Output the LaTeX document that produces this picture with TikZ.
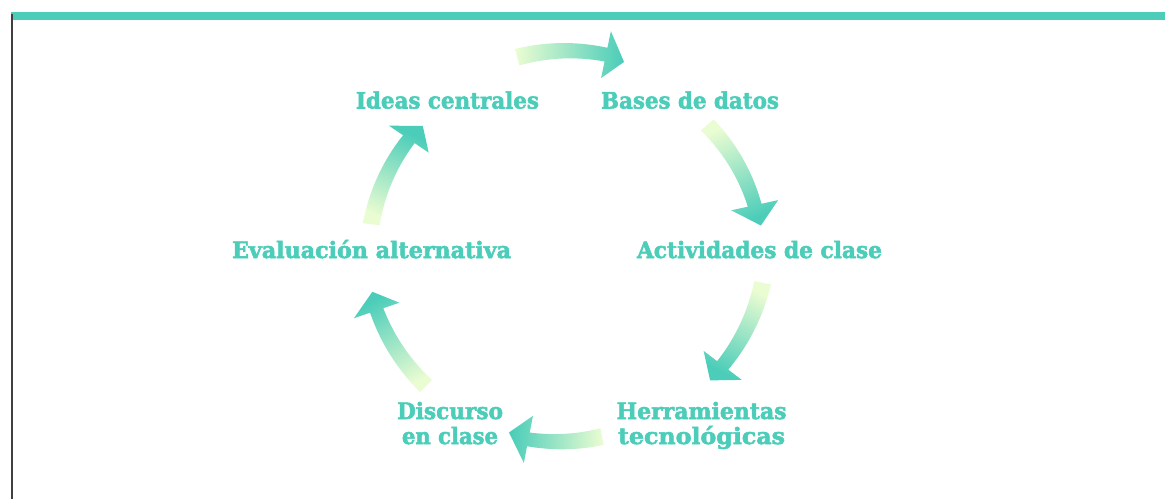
\documentclass[tikz,border=0pt]{standalone}
\usepackage{fontspec}
\setmainfont{DejaVu Serif}[BoldFeatures={FakeBold=2.4}]
\usepackage{graphicx}
\definecolor{tealc}{HTML}{4BCDB9}
\definecolor{lightc}{HTML}{EAFCD2}
\definecolor{framec}{HTML}{404040}
\newsavebox\lblbox
\newcommand\fitw[2]{\sbox\lblbox{#2}\pgfmathsetmacro\fx{#1/\the\wd\lblbox}\scalebox{\fx}[1]{\usebox\lblbox}}
% #1 tail angle, #2 head-base angle, #3 tip angle, #4 r tail, #5 r base, #6 r tip
% radius r(t) and half-width w(t) vary linearly from tail to head base
\newcommand\cyc[6]{%
 \pgfmathsetmacro\sa{(#1+#3)/2-180}%
 \shade[top color=tealc, bottom color=lightc, shading angle=\sa]
  plot[domain=#1:#2, samples=30] ({566+(#4+(#5-#4)*(\x-(#1))/((#2)-(#1))+8.5-1.5*(\x-(#1))/((#2)-(#1)))*cos(\x)}, {246-(#4+(#5-#4)*(\x-(#1))/((#2)-(#1))+8.5-1.5*(\x-(#1))/((#2)-(#1)))*sin(\x)})
  -- ({566+(#5+24)*cos(#2)}, {246-(#5+24)*sin(#2)})
  -- ({566+#6*cos(#3)}, {246-#6*sin(#3)})
  -- ({566+(#5-24)*cos(#2)}, {246-(#5-24)*sin(#2)})
  -- plot[domain=#2:#1, samples=30] ({566+(#4+(#5-#4)*(\x-(#1))/((#2)-(#1))-8.5+1.5*(\x-(#1))/((#2)-(#1)))*cos(\x)}, {246-(#4+(#5-#4)*(\x-(#1))/((#2)-(#1))-8.5+1.5*(\x-(#1))/((#2)-(#1)))*sin(\x)})
  -- cycle;}
\begin{document}
\begin{tikzpicture}[x=1pt,y=-1pt,
  lbl/.style={text=tealc, font=\fontsize{22.6}{25}\selectfont\bfseries, inner sep=0pt, anchor=base, align=center}]
\useasboundingbox (0,0) rectangle (1165,499);
\fill[tealc] (11,12) rectangle (1165,20);
\draw[framec, line width=2pt] (11.5,14) -- (11.5,499);
% arrows
\cyc{104.5}{78.2}{72.5}{195}{195.5}{193}
\cyc{40.6}{12.2}{6.0}{186}{193}{196}
\cyc{-10.6}{-37.3}{-43.0}{200}{197}{197}
\cyc{-79.3}{-101.0}{-107}{194}{197}{195}
\cyc{-135}{-161.2}{-166.7}{198}{200}{199}
\cyc{173.6}{145.8}{140}{196}{190}{187}
% labels
\node[lbl] (ideas) at (447.5,108.5) {\fitw{183}{Ideas centrales}};
\node[lbl] (bases) at (690,108.5) {\fitw{178}{Bases de datos}};
\node[lbl] (eval) at (371.5,258) {\fitw{279}{Evaluación alternativa}};
\node[lbl] (activ) at (759.5,258) {\fitw{245}{Actividades de clase}};
\node[lbl] (herr) at (701.5,444) {\fitw{170}{Herramientas}\\\fitw{167}{tecnológicas}};
\node[lbl] (disc) at (450,444) {\fitw{106}{Discurso}\\\fitw{96}{en clase}};
\end{tikzpicture}
\end{document}
